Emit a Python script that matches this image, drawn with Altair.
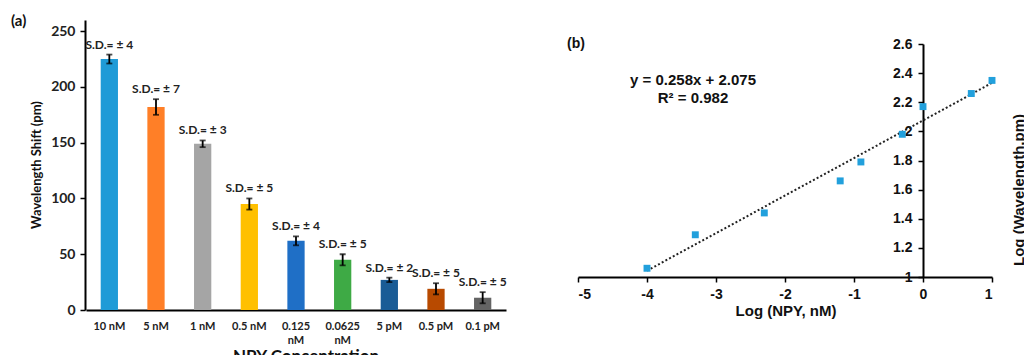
import altair as alt
import pandas as pd

# ---- panel (a) data ----
conc = ["10 nM", "5 nM", "1 nM", "0.5 nM", "0.125 nM", "0.0625 nM", "5 pM", "0.5 pM", "0.1 pM"]
shift = [225, 182, 149, 95, 62, 45, 27, 19, 11]
sd = [4, 7, 3, 5, 4, 5, 2, 5, 5]
bar_colors = ["#1F9BD7", "#FF7F27", "#A5A5A5", "#FFC000", "#1F6FC6",
              "#3EAA45", "#1A5C96", "#B84A00", "#646464"]
y_ticks_a = [0, 50, 100, 150, 200, 250]

# ---- panel (b) data ----
log_conc = [1, 0.7, 0, -0.3, -0.9, -1.2, -2.3, -3.3, -4]
log_shift = [2.35, 2.26, 2.17, 1.98, 1.79, 1.66, 1.44, 1.29, 1.06]
slope, intercept = 0.258, 2.075
fit_x = [-4, 1]
x_ticks_b = [-5, -4, -3, -2, -1, 0, 1]
y_ticks_b = [1, 1.2, 1.4, 1.6, 1.8, 2, 2.2, 2.4, 2.6]

FA = "Lato"
FB = "Liberation Sans"

df_a = pd.DataFrame({"conc": conc, "shift": shift, "sd": sd})
df_a["lo"] = df_a["shift"] - df_a["sd"]
df_a["hi"] = df_a["shift"] + df_a["sd"]
df_a["label"] = ["S.D.= \u00b1 " + str(s) for s in sd]

df_b = pd.DataFrame({"x": log_conc, "y": log_shift})
df_fit = pd.DataFrame({"x": fit_x})

xa_scale = alt.Scale(domain=conc, range=[1, 421], paddingInner=0.63, paddingOuter=0.315)
ya_scale = alt.Scale(domain=[0, 250], range=[290, 0])

xa = alt.X("conc:N", sort=conc, scale=xa_scale, title=None,
           axis=alt.Axis(orient="bottom", offset=-45, ticks=False, domainColor="black",
                         domainWidth=2, labelAngle=0, labelFont=FA, labelFontWeight="bold",
                         labelFontSize=11, labelColor="#222222", labelPadding=10,
                         labelLineHeight=14,
                         labelExpr="length(datum.label) > 6 ? split(datum.label, ' ') : datum.label"))
ya_axis = alt.Axis(orient="left", values=y_ticks_a, grid=False, domainColor="black", domainWidth=2,
                   tickColor="black", tickSize=5, tickWidth=1.5, labelFont=FA,
                   labelFontWeight="bold", labelFontSize=14, labelColor="#222222", labelPadding=5)

bars = alt.Chart().mark_bar().encode(
    x=xa,
    y=alt.Y("shift:Q", scale=ya_scale, axis=ya_axis, title=None),
    color=alt.Color("conc:N", scale=alt.Scale(domain=conc, range=bar_colors), legend=None),
)
err = alt.Chart().mark_rule(color="black", strokeWidth=1.8).encode(
    x=alt.X("conc:N", sort=conc), y=alt.Y("lo:Q"), y2="hi:Q")
cap_hi = alt.Chart().mark_tick(color="black", thickness=1.8, size=6).encode(
    x=alt.X("conc:N", sort=conc), y=alt.Y("hi:Q"))
cap_lo = alt.Chart().mark_tick(color="black", thickness=1.8, size=6).encode(
    x=alt.X("conc:N", sort=conc), y=alt.Y("lo:Q"))
sd_text = alt.Chart().mark_text(font=FA, fontWeight="bold", fontSize=12, color="#222222",
                                baseline="alphabetic", dy=-6).encode(
    x=alt.X("conc:N", sort=conc), y=alt.Y("hi:Q"), text="label:N")

left = alt.layer(bars, err, cap_hi, cap_lo, sd_text, data=df_a)

# ---- panel (b) ----
xb_scale = alt.Scale(domain=[-5, 1], range=[493, 907], nice=False, zero=False)
yb_scale = alt.Scale(domain=[1, 2.6], range=[257, 24], nice=False, zero=False)
xb_axis = alt.Axis(orient="bottom", offset=-78, values=x_ticks_b, grid=False, domainColor="black",
                   domainWidth=2, tickColor="black", tickSize=5, tickWidth=1.5, labelFont=FB,
                   labelFontWeight="bold", labelFontSize=14, labelColor="#111111", labelPadding=5,
                   labelExpr="'' + datum.value")
yb_axis = alt.Axis(orient="left", offset=-838, values=y_ticks_b, grid=False, domainColor="black",
                   domainWidth=2, tickColor="black", tickSize=5, tickWidth=1.5, labelFont=FB,
                   labelFontWeight="bold", labelFontSize=14, labelColor="#111111", labelPadding=6,
                   format="~g")

trend = alt.Chart(df_fit).mark_line(color="#222222", strokeWidth=2, strokeDash=[2, 2.2]).transform_calculate(
    fy=f"{slope} * datum.x + {intercept}"
).encode(x=alt.X("x:Q", scale=xb_scale, axis=xb_axis, title=None),
         y=alt.Y("fy:Q", scale=yb_scale, axis=yb_axis, title=None))
pts = alt.Chart(df_b).mark_square(size=48, color="#22A0DC", opacity=1).encode(
    x=alt.X("x:Q"), y=alt.Y("y:Q"))

right = alt.layer(trend, pts)


def txt(s, x, y, font, size, angle=0, align="center", baseline="middle"):
    return alt.Chart(pd.DataFrame({"t": [s]})).mark_text(
        font=font, fontWeight="bold", fontSize=size, color="#111111",
        align=align, baseline=baseline, angle=angle).encode(
        x=alt.value(x), y=alt.value(y), text="t:N")


ann = [
    txt("(a)", -74, 1, FA, 15, align="left"),
    txt("Wavelength Shift (pm)", -48, 145, FA, 13, angle=270),
    txt("NPY Concentration", 221, 329, FA, 17, baseline="top"),
    txt("(b)", 482, 24, FB, 14, align="left"),
    txt("y = 0.258x + 2.075", 608, 60, FB, 15),
    txt("R\u00b2 = 0.982", 608, 78, FB, 15),
    txt("Log (NPY, nM)", 701, 284, FB, 15, baseline="top"),
    txt("Log (Wavelength,pm)", 934, 170, FB, 15, angle=270),
]

chart = alt.layer(left, right, *ann).resolve_scale(
    x="independent", y="independent", color="independent"
).properties(
    width=939, height=335,
    padding={"left": 77, "top": 12, "right": 0, "bottom": 0},
    autosize=alt.AutoSizeParams(type="none"),
    background="white",
).configure_view(stroke=None)

chart.save("out.html", embed_options={"renderer": "svg", "actions": False})
